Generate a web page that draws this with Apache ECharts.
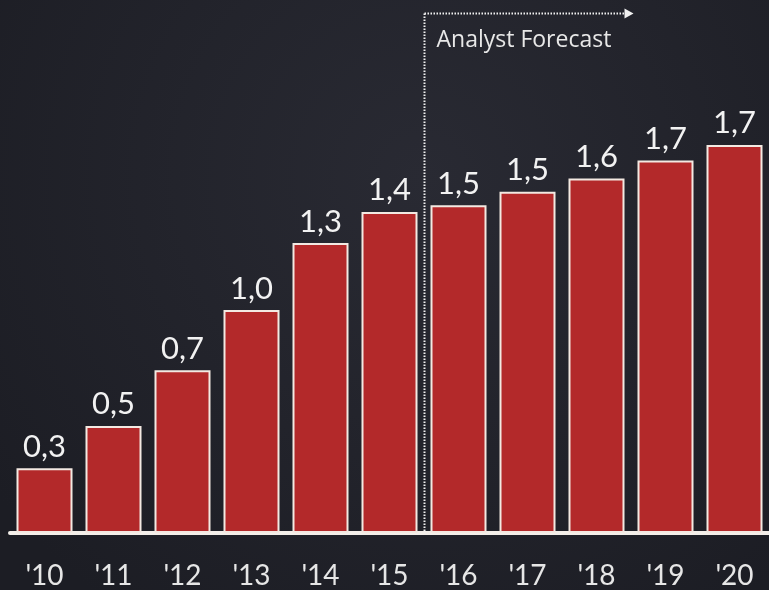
<!DOCTYPE html>
<html>
<head>
<meta charset="utf-8">
<script src="https://cdn.jsdelivr.net/npm/echarts@6/dist/echarts.min.js"></script>
<style>
html,body{margin:0;padding:0;background:#23242c;}
#c{width:769px;height:590px;}
</style>
</head>
<body>
<div id="c"></div>
<script>
const categories = ["'10","'11","'12","'13","'14","'15","'16","'17","'18","'19","'20"];
const values = [0.29, 0.48, 0.73, 1.0, 1.30, 1.44, 1.47, 1.53, 1.59, 1.67, 1.74];
const valueLabels = ["0,3","0,5","0,7","1,0","1,3","1,4","1,5","1,5","1,6","1,7","1,7"];
const forecastStartIndex = 6;
const forecastText = "Analyst Forecast";

const chart = echarts.init(document.getElementById('c'));
const font = 'Lato, "Open Sans", sans-serif';
const font2 = '"Open Sans", Lato, sans-serif';
chart.setOption({
  backgroundColor: {
    type: 'radial', x: 0.55, y: 0.3, r: 0.9,
    colorStops: [{offset: 0, color: '#292a33'}, {offset: 1, color: '#1c1d24'}]
  },
  animation: false,
  grid: {left: 10, width: 763, top: 87, bottom: 57},
  xAxis: {
    type: 'category', data: categories,
    axisLine: {show: true, lineStyle: {color: '#f4efea', width: 4}},
    axisTick: {show: false},
    axisLabel: {color: '#e6e6e6', fontSize: 28, fontFamily: font, margin: 29}
  },
  yAxis: {type: 'value', min: 0, max: 2, show: false, splitLine: {show: false}},
  series: [{
    type: 'bar', data: values, barWidth: 56,
    itemStyle: {color: '#b3292a', borderColor: '#f3e9e2', borderWidth: 2},
    label: {
      show: true, position: 'top', distance: 6,
      color: '#f2f2f2', fontSize: 31, fontFamily: font,
      formatter: p => valueLabels[p.dataIndex]
    }
  }]
});

function drawAnnotation() {
  const a = chart.convertToPixel({xAxisIndex: 0}, forecastStartIndex - 1);
  const b = chart.convertToPixel({xAxisIndex: 0}, forecastStartIndex);
  const x = Math.round((a + b) / 2) + 0.5;
  const yBase = chart.convertToPixel({yAxisIndex: 0}, 0);
  const yTop = 13.5;
  const xEnd = x + 200;
  chart.setOption({
    graphic: [
      {type: 'line', shape: {x1: x, y1: yTop, x2: x, y2: yBase}, style: {stroke: '#f0f0f0', lineWidth: 2, lineDash: [1.5, 1.5]}, z: 10},
      {type: 'line', shape: {x1: x, y1: yTop, x2: xEnd, y2: yTop}, style: {stroke: '#f0f0f0', lineWidth: 2, lineDash: [1.5, 1.5]}, z: 10},
      {type: 'polygon', shape: {points: [[xEnd, yTop - 5], [xEnd + 9, yTop], [xEnd, yTop + 5]]}, style: {fill: '#f0f0f0'}, z: 10},
      {type: 'text', x: x + 12, y: 40, style: {text: forecastText, fill: '#e8e8e8', font: '23px ' + font2, textVerticalAlign: 'middle'}, z: 10}
    ]
  });
}
drawAnnotation();
</script>
</body>
</html>
